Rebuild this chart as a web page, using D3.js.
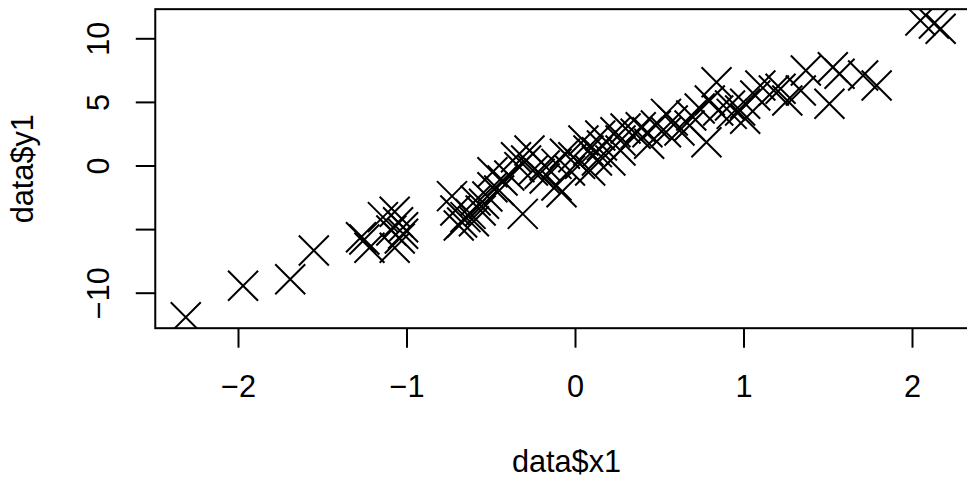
<!DOCTYPE html>
<html lang="en">

<head>
    <meta charset="UTF-8">
    <title>data$y1 vs data$x1</title>
    <style>
        body { margin: 0; background: #fff; }
        text { font-family: "Liberation Sans", Arial, sans-serif; fill: #000; }
    </style>
</head>

<body>
    <div id="wrapper"></div>
    <script src="https://d3js.org/d3.v7.min.js"></script>
    <script>
        // data
        const x1 = [
            -2.31, -1.97, -1.69, -1.55, -1.27, -1.25, -1.22, -1.14, -1.07, -1.07,
            -1.02, -1.02, -1.05, -1.04, -0.73, -0.69, -0.65, -0.62, -0.60, -0.67,
            -0.54, -0.49, -0.49, -0.43, -0.52, -0.31, -0.33, -0.29, -0.25, -0.21,
            -0.35, -0.39, -0.06, -0.11, -0.11, -0.08, 0.05, -0.01, 0.13, 0.13,
            0.03, 0.21, 0.24, 0.36, 0.39, 0.44, 0.43, 0.54, 0.54, 0.62,
            0.69, 0.78, 0.84, 0.85, 0.92, 0.93, 1.01, 1.01, 1.10, 1.18,
            1.26, 1.22, 1.37, 1.34, 1.51, 1.53, 1.57, 1.71, 1.79, 2.05,
            2.13, 2.17, 0.08, 0.16, 0.27, 0.30, 0.48, 0.74, 0.80, 0.68,
            -0.18, -0.27, -0.59, -0.45, -0.03, 0.09, -0.18, -0.71, -0.56, -1.09,
            0.27, 1.07, 0.15, 0.58, 0.98
        ];
        const y1 = [
            -11.93, -9.46, -8.94, -6.68, -5.64, -5.82, -6.47, -4.06, -3.64, -6.47,
            -4.85, -5.37, -4.46, -5.74, -2.41, -4.72, -4.06, -3.80, -4.38, -4.48,
            -3.01, -1.71, -0.53, -1.18, -2.44, -3.80, -0.13, 0.39, -0.39, -0.65,
            0.65, -0.79, 0.92, 0.13, -1.57, -2.10, 1.97, 0.65, 1.05, 0.39,
            0.13, 0.39, 2.62, 2.49, 3.01, 1.71, 2.62, 4.06, 2.62, 2.75,
            3.93, 1.83, 6.55, 4.32, 4.72, 4.06, 3.67, 4.85, 6.29, 5.90,
            5.11, 6.03, 7.47, 5.90, 4.85, 7.73, 7.21, 7.08, 6.29, 11.40,
            11.16, 10.75, 1.18, 1.57, 1.97, 2.91, 3.14, 4.48, 5.11, 3.14,
            0.00, 1.18, -2.75, -1.97, -0.39, -0.39, -1.02, -3.54, -3.54, -5.11,
            1.18, 5.50, 2.36, 3.54, 4.32
        ];
        const xTicks = [-2, -1, 0, 1, 2];
        const yTicks = [-10, -5, 0, 5, 10];
        // R drops the -5 label because it would overlap
        const yTickLabels = ['\u221210', '', '0', '5', '10'];

        const width = 967,
            height = 481;

        const svg = d3.select('#wrapper').append('svg')
            .attr('width', width)
            .attr('height', height);

        svg.append('rect')
            .attr('width', width)
            .attr('height', height)
            .attr('fill', '#fff');

        // scales (pixel positions measured at the tick marks)
        const x = d3.scaleLinear().domain([-2, 2]).range([238, 912]);
        const y = d3.scaleLinear().domain([-10, 10]).range([292.7, 38.3]);

        // plot region = data range + 4%, like base R; right side runs off the page
        const xLim = [-2.491, 2.39],
            yLim = [-12.79, 12.29];
        const plotLeft = x(xLim[0]),
            plotRight = x(xLim[1]),
            plotTop = y(yLim[1]),
            plotBottom = y(yLim[0]);

        svg.append('clipPath')
            .attr('id', 'plotClip')
            .append('rect')
            .attr('x', plotLeft)
            .attr('y', plotTop)
            .attr('width', plotRight - plotLeft)
            .attr('height', plotBottom - plotTop);

        // points, pch = 4
        const s = 15;
        svg.append('g')
            .attr('clip-path', 'url(#plotClip)')
            .selectAll('path')
            .data(x1.map((d, i) => [d, y1[i]]))
            .join('path')
            .attr('transform', d => `translate(${x(d[0])},${y(d[1])})`)
            .attr('d', `M${-s},${-s}L${s},${s}M${-s},${s}L${s},${-s}`)
            .attr('stroke', '#000')
            .attr('stroke-width', 2)
            .attr('fill', 'none');

        // box
        svg.append('rect')
            .attr('x', plotLeft)
            .attr('y', plotTop)
            .attr('width', plotRight - plotLeft)
            .attr('height', plotBottom - plotTop)
            .attr('fill', 'none')
            .attr('stroke', '#000')
            .attr('stroke-width', 2);

        const fontSize = 30.7;

        // x axis
        const xAxis = d3.axisBottom(x)
            .tickValues(xTicks)
            .tickSize(19.5)
            .tickFormat(d => d < 0 ? '\u2212' + Math.abs(d) : d);

        const gx = svg.append('g')
            .attr('transform', `translate(0,${plotBottom})`)
            .call(xAxis);
        gx.select('.domain').remove();
        gx.selectAll('line').attr('stroke', '#000').attr('stroke-width', 2);
        gx.selectAll('text')
            .attr('y', 69)
            .attr('dy', 0)
            .attr('fill', '#000')
            .style('font-size', fontSize + 'px')
            .style('font-family', '"Liberation Sans", Arial, sans-serif');

        // y axis, labels turned like las = 0
        const yAxis = d3.axisLeft(y)
            .tickValues(yTicks)
            .tickSize(19.5)
            .tickFormat((d, i) => yTickLabels[i]);

        const gy = svg.append('g')
            .attr('transform', `translate(${plotLeft},0)`)
            .call(yAxis);
        gy.select('.domain').remove();
        gy.selectAll('line').attr('stroke', '#000').attr('stroke-width', 2);
        gy.selectAll('text')
            .attr('x', 0)
            .attr('y', 0)
            .attr('dy', 0)
            .attr('transform', 'translate(-45.8,0) rotate(-90)')
            .attr('text-anchor', 'middle')
            .attr('fill', '#000')
            .style('font-size', fontSize + 'px')
            .style('font-family', '"Liberation Sans", Arial, sans-serif');

        // axis titles
        svg.append('text')
            .attr('x', (plotLeft + plotRight) / 2)
            .attr('y', 472)
            .attr('text-anchor', 'middle')
            .style('font-size', fontSize + 'px')
            .text('data$x1');

        svg.append('text')
            .attr('transform', `translate(33,${(plotTop + plotBottom) / 2}) rotate(-90)`)
            .attr('text-anchor', 'middle')
            .style('font-size', fontSize + 'px')
            .text('data$y1');
    </script>
</body>

</html>
